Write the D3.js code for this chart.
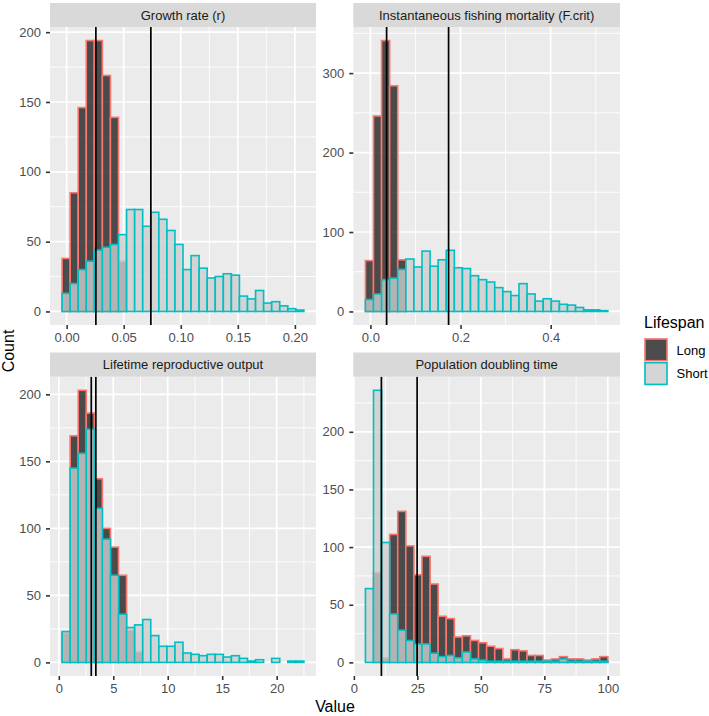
<!DOCTYPE html>
<html>
<head>
<meta charset="utf-8">
<script src="https://cdn.jsdelivr.net/npm/d3@7"></script>
<style>
  html, body { margin: 0; padding: 0; background: #ffffff; }
  svg { display: block; font-family: "Liberation Sans", Arial, Helvetica, sans-serif; }
</style>
</head>
<body>
<svg id="chart" width="709" height="716"></svg>
<script>
// ---------------- data ----------------
const panelTitles = ["Growth rate (r)", "Instantaneous fishing mortality (F.crit)", "Lifetime reproductive output", "Population doubling time"];
const groups = ["Long", "Short"];

// histogram bins (30 bins per panel): first bin left edge and bin width, in data units
const binStarts = [-0.0040, -0.0110, 0.301, 4.55];
const binWidths = [0.007064, 0.01793, 0.7400, 3.182];

const growthLong  = [38, 85, 146, 194, 194, 169, 139, 36, 0, 0, 0, 0, 0, 0, 0, 0, 0, 0, 0, 0, 0, 0, 0, 0, 0, 0, 0, 0, 0, 0];
const growthShort = [13, 20, 30, 36, 44, 46, 48, 55, 73, 73, 61, 71, 66, 58, 48, 30, 40, 31, 24, 25, 27, 26, 11, 9, 15, 6, 7, 4, 2, 1];

const fcritLong  = [64, 246, 341, 284, 65, 0, 0, 0, 0, 0, 0, 0, 0, 0, 0, 0, 0, 0, 0, 0, 0, 0, 0, 0, 0, 0, 0, 0, 0, 0];
const fcritShort = [15, 22, 40, 42, 53, 66, 56, 76, 57, 65, 77, 55, 54, 45, 40, 37, 30, 25, 20, 35, 22, 13, 16, 13, 9, 8, 5, 2, 2, 1];

const lroLong  = [22, 169, 203, 186, 137, 100, 86, 65, 24, 8, 0, 0, 0, 0, 0, 0, 0, 0, 0, 0, 0, 0, 0, 0, 0, 0, 0, 0, 0, 0];
const lroShort = [23, 145, 156, 174, 115, 92, 65, 36, 26, 28, 32, 20, 12, 12, 15, 7, 6, 5, 6, 6, 4, 5, 3, 1, 2, 0, 3, 0, 1, 1];

const pdtLong  = [0, 78, 4, 111, 131, 101, 76, 92, 68, 40, 38, 22, 23, 19, 17, 14, 12, 3, 11, 10, 6, 6, 2, 3, 5, 3, 3, 2, 3, 5];
const pdtShort = [64, 236, 104, 42, 28, 19, 16, 16, 8, 5, 6, 4, 9, 3, 2, 1, 1, 1, 1, 1, 1, 1, 1, 1, 3, 1, 1, 1, 1, 1];

// vertical reference lines (Long, Short)
const growthLines = [0.0256, 0.0738];
const fcritLines  = [0.036, 0.1735];
const lroLines    = [2.98, 3.40];
const pdtLines    = [10.84, 24.9];

// tick values
const growthXTicks = [0, 0.05, 0.10, 0.15, 0.20];
const fcritXTicks  = [0, 0.2, 0.4];
const lroXTicks    = [0, 5, 10, 15, 20];
const pdtXTicks    = [0, 25, 50, 75, 100];
const growthYTicks = [0, 50, 100, 150, 200];
const fcritYTicks  = [0, 100, 200, 300];
const lroYTicks    = [0, 50, 100, 150, 200];
const pdtYTicks    = [0, 50, 100, 150, 200];
const xFormats = [".2f", ".1f", "d", "d"];

const axisLabelX = "Value";
const axisLabelY = "Count";
const legendTitle = "Lifespan";

// ---------------- assembled ----------------
const panels = [
  { title: panelTitles[0], counts: [growthLong, growthShort], lines: growthLines, xt: growthXTicks, yt: growthYTicks },
  { title: panelTitles[1], counts: [fcritLong, fcritShort], lines: fcritLines, xt: fcritXTicks, yt: fcritYTicks },
  { title: panelTitles[2], counts: [lroLong, lroShort], lines: lroLines, xt: lroXTicks, yt: lroYTicks },
  { title: panelTitles[3], counts: [pdtLong, pdtShort], lines: pdtLines, xt: pdtXTicks, yt: pdtYTicks }
];

const fills = { Long: "#222222", Short: "#CDCDCD" };
const strokes = { Long: "#F8766D", Short: "#00BFC4" };
const fillOpacity = 0.8;

// layout
const cols = [{ x0: 50, x1: 316 }, { x0: 353.3, x1: 620 }];
const rows = [{ s0: 3, p0: 27, p1: 325 }, { s0: 352.5, p0: 376.7, p1: 676 }];

const svg = d3.select("#chart");
svg.append("rect").attr("width", 709).attr("height", 716).attr("fill", "#ffffff");

function minorBreaks(ticks, domain) {
  const out = [];
  const step = ticks[1] - ticks[0];
  const ext = [ticks[0] - step].concat(ticks).concat([ticks[ticks.length - 1] + step]);
  for (let i = 0; i < ext.length - 1; i++) {
    const m = (ext[i] + ext[i + 1]) / 2;
    if (m >= domain[0] && m <= domain[1]) out.push(m);
  }
  return out;
}

panels.forEach((p, i) => {
  const c = cols[i % 2], r = rows[Math.floor(i / 2)];
  const start = binStarts[i], w = binWidths[i];
  const n = p.counts[0].length;
  const lo = start, hi = start + n * w;
  const xr = hi - lo;
  const xDom = [lo - 0.05 * xr, hi + 0.05 * xr];
  const ymax = d3.max(p.counts.flat());
  const yDom = [-0.05 * ymax, 1.05 * ymax];
  const x = d3.scaleLinear().domain(xDom).range([c.x0, c.x1]);
  const y = d3.scaleLinear().domain(yDom).range([r.p1, r.p0]);

  const g = svg.append("g");
  g.append("rect").attr("x", c.x0).attr("y", r.p0).attr("width", c.x1 - c.x0).attr("height", r.p1 - r.p0).attr("fill", "#EBEBEB");

  // minor grid
  minorBreaks(p.xt, xDom).forEach(v => {
    g.append("line").attr("x1", x(v)).attr("x2", x(v)).attr("y1", r.p0).attr("y2", r.p1)
      .attr("stroke", "#ffffff").attr("stroke-width", 0.9);
  });
  minorBreaks(p.yt, yDom).forEach(v => {
    g.append("line").attr("x1", c.x0).attr("x2", c.x1).attr("y1", y(v)).attr("y2", y(v))
      .attr("stroke", "#ffffff").attr("stroke-width", 0.9);
  });
  // major grid
  p.xt.forEach(v => {
    g.append("line").attr("x1", x(v)).attr("x2", x(v)).attr("y1", r.p0).attr("y2", r.p1)
      .attr("stroke", "#ffffff").attr("stroke-width", 1.7);
  });
  p.yt.forEach(v => {
    g.append("line").attr("x1", c.x0).attr("x2", c.x1).attr("y1", y(v)).attr("y2", y(v))
      .attr("stroke", "#ffffff").attr("stroke-width", 1.7);
  });

  // bars
  groups.forEach((grp, gi) => {
    const data = p.counts[gi].map((cnt, k) => ({ x0: start + k * w, x1: start + (k + 1) * w, cnt }));
    g.append("g").selectAll("rect").data(data).join("rect")
      .attr("x", d => x(d.x0))
      .attr("width", d => x(d.x1) - x(d.x0))
      .attr("y", d => y(d.cnt))
      .attr("height", d => y(0) - y(d.cnt))
      .attr("fill", fills[grp])
      .attr("fill-opacity", fillOpacity)
      .attr("stroke", strokes[grp])
      .attr("stroke-width", 1.6);
  });

  // vertical lines
  p.lines.forEach(v => {
    g.append("line").attr("x1", x(v)).attr("x2", x(v)).attr("y1", r.p0).attr("y2", r.p1)
      .attr("stroke", "#000000").attr("stroke-width", 1.7);
  });

  // strip
  g.append("rect").attr("x", c.x0).attr("y", r.s0).attr("width", c.x1 - c.x0).attr("height", r.p0 - r.s0).attr("fill", "#D9D9D9");
  g.append("text").attr("x", (c.x0 + c.x1) / 2).attr("y", (r.s0 + r.p0) / 2 + 4.7)
    .attr("text-anchor", "middle").attr("font-size", 13).attr("fill", "#1A1A1A").text(p.title);

  // axes
  const xa = g.append("g").attr("transform", `translate(0,${r.p1})`)
    .call(d3.axisBottom(x).tickValues(p.xt).tickFormat(d3.format(xFormats[i])).tickSize(4).tickPadding(3.3).tickSizeOuter(0));
  const ya = g.append("g").attr("transform", `translate(${c.x0},0)`)
    .call(d3.axisLeft(y).tickValues(p.yt).tickFormat(d3.format("d")).tickSize(4).tickPadding(5).tickSizeOuter(0));
  [xa, ya].forEach(a => {
    a.select(".domain").remove();
    a.selectAll(".tick line").attr("stroke", "#333333").attr("stroke-width", 1.6);
    a.selectAll(".tick text").attr("fill", "#4D4D4D").attr("font-size", 13)
      .attr("font-family", "Liberation Sans, Arial, sans-serif");
  });
});

// axis titles
svg.append("text").attr("x", 335).attr("y", 711.5).attr("text-anchor", "middle")
  .attr("font-size", 16).attr("fill", "#000000").text(axisLabelX);
svg.append("text").attr("transform", "translate(14,351) rotate(-90)").attr("text-anchor", "middle")
  .attr("font-size", 16).attr("fill", "#000000").text(axisLabelY);

// legend
const lg = svg.append("g");
lg.append("text").attr("x", 644).attr("y", 328.2).attr("font-size", 16).attr("fill", "#000000").text(legendTitle);
groups.forEach((grp, gi) => {
  const ky = 338 + gi * 23.7;
  lg.append("rect").attr("x", 644).attr("y", ky).attr("width", 24).attr("height", 23.7).attr("fill", "#F2F2F2");
  lg.append("rect").attr("x", 645).attr("y", ky + 1).attr("width", 22).attr("height", 21.7)
    .attr("fill", fills[grp]).attr("fill-opacity", fillOpacity)
    .attr("stroke", strokes[grp]).attr("stroke-width", 1.6);
  lg.append("text").attr("x", 676.5).attr("y", ky + 11.85 + 4.7).attr("font-size", 13).attr("fill", "#000000").text(grp);
});
</script>
</body>
</html>
